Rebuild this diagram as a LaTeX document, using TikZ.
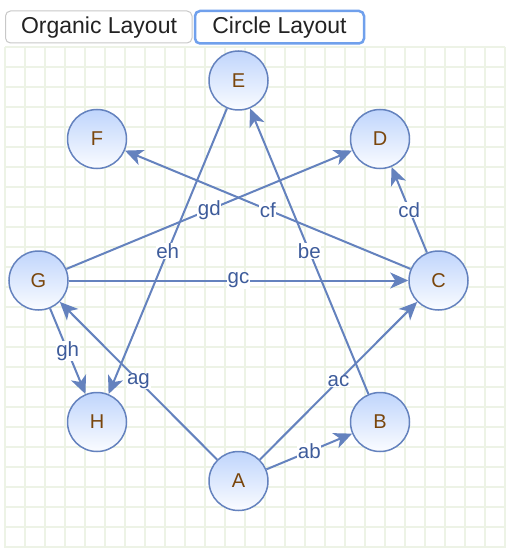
\documentclass[tikz,border=0pt]{standalone}
\usepackage{fontspec}
\setmainfont{Liberation Sans}
\usetikzlibrary{arrows.meta}

\definecolor{gridgreen}{RGB}{237,243,230}
\definecolor{edgeblue}{RGB}{100,130,190}
\definecolor{labelblue}{RGB}{62,92,155}
\definecolor{nodetop}{RGB}{192,213,252}
\definecolor{nodebot}{RGB}{250,252,255}
\definecolor{nodebrown}{RGB}{122,70,12}
\definecolor{btngrey}{RGB}{200,200,200}
\definecolor{btnblue}{RGB}{112,160,236}
\definecolor{btntext}{RGB}{34,34,34}

\tikzset{
	vertex/.style={circle, draw=edgeblue, line width=1.5pt, minimum size=59pt, inner sep=0pt,
		top color=nodetop, bottom color=nodebot, text=nodebrown, font=\fontsize{20}{24}\selectfont},
	edge/.style={draw=edgeblue, line width=2pt, -{Stealth[length=18pt,width=16pt,inset=5pt]}},
	elabel/.style={fill=white, inner sep=0.6pt, text=labelblue, font=\fontsize{20.5}{24}\selectfont},
	gridline/.style={draw=gridgreen, line width=2pt},
	btnlabel/.style={text=btntext, font=\fontsize{23}{27}\selectfont}
}

\begin{document}
\begin{tikzpicture}[x=1pt, y=-1pt]
					\useasboundingbox (0,0) rectangle (506,548);
					\fill[white] (0,0) rectangle (506,548);

					% background grid
					\foreach \gx in {5,25,...,505}
						\draw[gridline] (\gx,47) -- (\gx,548);
					\foreach \gy in {47,67,...,547}
						\draw[gridline] (5,\gy) -- (505,\gy);

					% layout buttons
					\draw[btngrey, line width=1pt, fill=white, rounded corners=5pt] (5.5,11) rectangle (192,43);
					\draw[btnblue, line width=2.5pt, fill=white, rounded corners=5pt] (195,11) rectangle (364,43.5);
					\node[btnlabel] (organic) at (99,28) {Organic Layout};
					\node[btnlabel] (circle) at (279.5,28) {Circle Layout};

					% vertices on the circle
					\node[vertex] (E) at (238.5,80.5) {E};
					\node[vertex] (D) at (380,139) {D};
					\node[vertex] (C) at (438.5,280.5) {C};
					\node[vertex] (B) at (380,422) {B};
					\node[vertex] (A) at (238.5,481) {A};
					\node[vertex] (H) at (97,422) {H};
					\node[vertex] (G) at (38.5,280.5) {G};
					\node[vertex] (F) at (97,139) {F};

					% edges
					\draw[edge] (A) -- node[elabel] {ab} (B);
					\draw[edge] (A) -- node[elabel] {ac} (C);
					\draw[edge] (A) -- node[elabel] {ag} (G);
					\draw[edge] (B) -- node[elabel] {be} (E);
					\draw[edge] (C) -- node[elabel] {cd} (D);
					\draw[edge] (C) -- node[elabel] {cf} (F);
					\draw[edge] (G) -- node[elabel] {gd} (D);
					\draw[edge] (G) -- node[elabel] {gc} (C);
					\draw[edge] (E) -- node[elabel] {eh} (H);
					\draw[edge] (G) -- node[elabel] {gh} (H);
\end{tikzpicture}
\end{document}
